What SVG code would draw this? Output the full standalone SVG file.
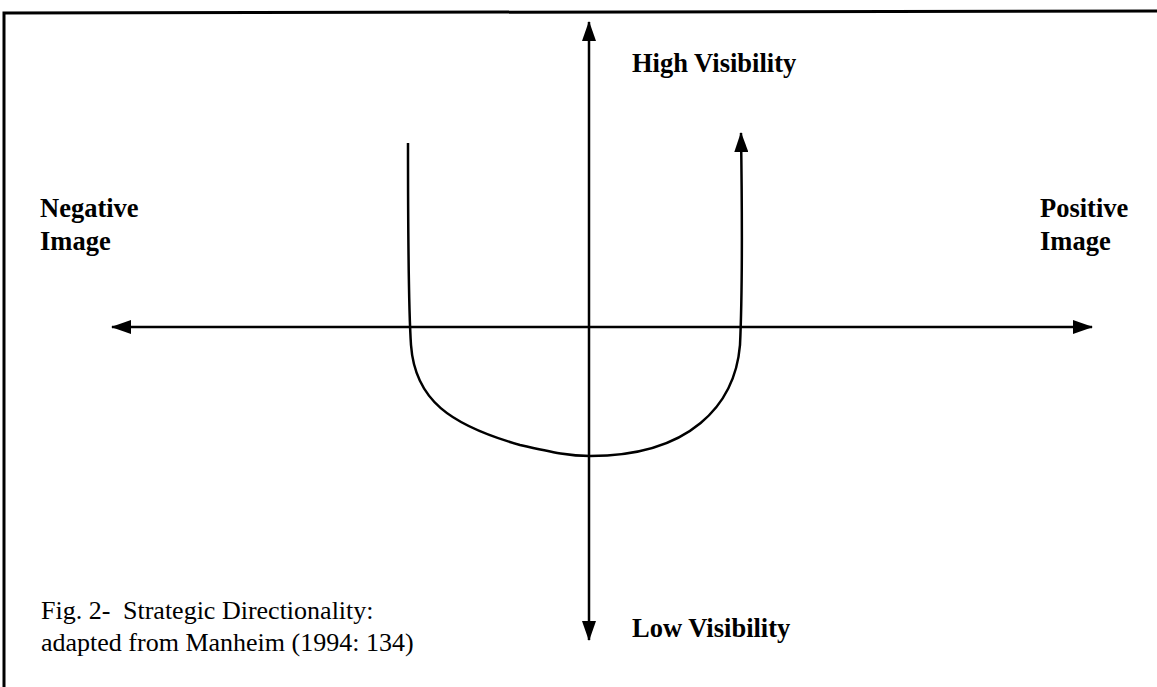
<svg xmlns="http://www.w3.org/2000/svg" width="1157" height="687" viewBox="0 0 1157 687">
<style>
.ln{stroke:#000;stroke-width:2.5;fill:none}
.b{font-family:"Liberation Serif",serif;font-weight:bold;font-size:26.5px;fill:#000}
.r{font-family:"Liberation Serif",serif;font-size:26px;fill:#000}
</style>
<defs>
<marker id="ah" viewBox="0 0 20 14" refX="19" refY="7" markerWidth="20" markerHeight="14" markerUnits="userSpaceOnUse" orient="auto">
<path d="M0,0 L20,7 L0,14 Z" fill="#000"/>
</marker>
</defs>
<rect width="1157" height="687" fill="#fff"/>
<g id="frame">
<path d="M4,687 L4,13 L1157,11" stroke="#000" stroke-width="3" fill="none"/>
</g>
<g id="connectors">
<line id="v-up" class="ln" x1="589" y1="327" x2="589" y2="22" marker-end="url(#ah)"/>
<line id="v-down" class="ln" x1="589" y1="327" x2="589" y2="640" marker-end="url(#ah)"/>
<line id="h-left" class="ln" x1="589" y1="327" x2="112" y2="327" marker-end="url(#ah)"/>
<line id="h-right" class="ln" x1="589" y1="327" x2="1092" y2="327" marker-end="url(#ah)"/>
<path id="curve" class="ln" d="M408,143 C408,230 408,300 411,345 C415,400 450,425 520,445 C555,453 570,456 590,456 C690,456 735,405 740,345 C743,280 742,200 741,133" marker-end="url(#ah)"/>
</g>
<g id="high"><text class="b" x="632" y="72">High Visibility</text></g>
<g id="low"><text class="b" x="632" y="637">Low Visibility</text></g>
<g id="neg"><text class="b" x="40" y="217">Negative</text><text class="b" x="40" y="250">Image</text></g>
<g id="pos"><text class="b" x="1040" y="217">Positive</text><text class="b" x="1040" y="250">Image</text></g>
<g id="caption"><text class="r" x="41" y="619">Fig. 2- <tspan x="123">Strategic Directionality:</tspan></text><text class="r" x="41" y="651">adapted from Manheim (1994: 134)</text></g>
</svg>
